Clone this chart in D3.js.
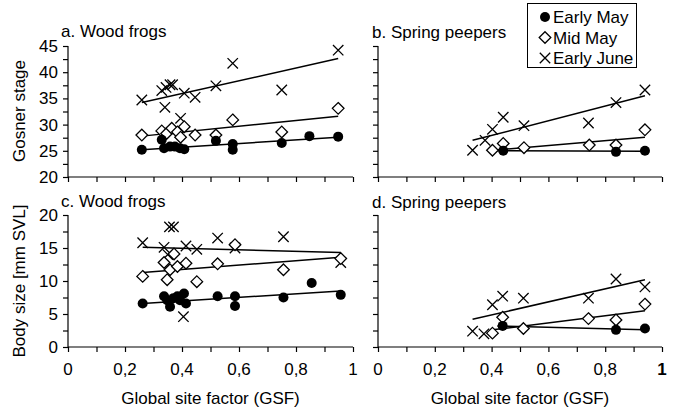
<!DOCTYPE html>
<html><head><meta charset="utf-8">
<script src="https://cdn.jsdelivr.net/npm/d3@7"></script>
<style>body{margin:0;background:#fff}svg{display:block}text{font-family:"Liberation Sans",Arial,sans-serif;fill:#000}</style>
</head><body><svg id="c" width="674" height="414"></svg>
<script>
// ---- data ----
const seriesNames = ["Early May", "Mid May", "Early June"];
const xTicks = [0, 0.2, 0.4, 0.6, 0.8, 1];
const stageTicks = [20, 25, 30, 35, 40, 45];
const sizeTicks = [0, 5, 10, 15, 20];

// a. Wood frogs, Gosner stage
const aEarlyMay = [[0.259,25.2],[0.329,27.1],[0.337,25.5],[0.358,25.8],[0.375,25.8],[0.393,25.5],[0.408,25.3],[0.519,26.9],[0.578,26.3],[0.578,25.2],[0.750,26.5],[0.847,27.8],[0.948,27.7]];
const aMidMay = [[0.259,28.0],[0.329,28.8],[0.346,28.3],[0.364,29.3],[0.384,28.6],[0.395,27.6],[0.408,29.6],[0.446,28.0],[0.519,28.0],[0.578,30.9],[0.750,28.6],[0.948,33.1]];
const aEarlyJune = [[0.259,34.7],[0.329,36.5],[0.344,37.1],[0.358,37.6],[0.367,37.6],[0.340,33.3],[0.395,31.2],[0.408,36.0],[0.446,35.2],[0.519,37.4],[0.578,41.7],[0.750,36.6],[0.948,44.2]];
const aFits = [[[0.259,25.2],[0.948,27.6]], [[0.259,27.8],[0.948,31.6]], [[0.259,34.2],[0.948,42.6]]];

// b. Spring peepers, Gosner stage
const bEarlyMay = [[0.441,25.0],[0.838,24.8],[0.940,25.0]];
const bMidMay = [[0.403,25.1],[0.441,26.4],[0.514,25.6],[0.744,26.1],[0.838,26.1],[0.940,29.0]];
const bEarlyJune = [[0.333,25.1],[0.377,27.0],[0.403,29.1],[0.441,31.4],[0.514,29.8],[0.741,30.3],[0.838,34.2],[0.940,36.6]];
const bFits = [[[0.420,25.0],[0.940,24.9]], [[0.403,25.1],[0.940,27.6]], [[0.333,27.0],[0.940,35.5]]];

// c. Wood frogs, body size
const cEarlyMay = [[0.262,6.6],[0.337,7.7],[0.348,7.1],[0.358,6.1],[0.370,7.4],[0.384,7.7],[0.393,7.1],[0.407,8.1],[0.414,6.6],[0.525,7.7],[0.586,7.7],[0.586,6.2],[0.756,7.5],[0.855,9.7],[0.957,7.9]];
const cMidMay = [[0.262,10.7],[0.337,12.8],[0.348,10.2],[0.358,11.7],[0.372,14.1],[0.384,12.2],[0.414,12.7],[0.452,9.9],[0.525,12.6],[0.586,15.5],[0.756,11.7],[0.957,13.4]];
const cEarlyJune = [[0.262,15.8],[0.337,15.1],[0.356,18.2],[0.370,18.2],[0.350,14.0],[0.414,15.3],[0.452,14.8],[0.525,16.5],[0.586,15.0],[0.756,16.7],[0.957,12.8],[0.405,4.6]];
const cFits = [[[0.262,6.6],[0.957,8.5]], [[0.262,11.3],[0.957,13.6]], [[0.262,15.1],[0.957,14.3]]];

// d. Spring peepers, body size
const dEarlyMay = [[0.439,3.2],[0.838,2.6],[0.940,2.8]];
const dMidMay = [[0.403,2.1],[0.439,4.5],[0.512,2.8],[0.741,4.3],[0.838,4.1],[0.940,6.5]];
const dEarlyJune = [[0.333,2.4],[0.373,2.0],[0.403,6.4],[0.439,7.7],[0.512,7.4],[0.741,7.4],[0.838,10.3],[0.940,9.1]];
const dFits = [[[0.420,3.2],[0.940,2.6]], [[0.403,2.6],[0.940,5.5]], [[0.333,4.2],[0.940,10.2]]];

// ---- drawing ----
const FS = 17;
const svg = d3.select("#c");
svg.append("rect").attr("width",674).attr("height",414).attr("fill","#fff");

const panels = [
  {title:"a. Wood frogs", x0:68, x1:353, y0:177, y1:46, dom:[20,45], ticks:stageTicks, labels:true, data:[aEarlyMay,aMidMay,aEarlyJune], fits:aFits, tx:61, ty:37},
  {title:"b. Spring peepers", x0:378, x1:662, y0:177, y1:46, dom:[20,45], ticks:stageTicks, labels:false, data:[bEarlyMay,bMidMay,bEarlyJune], fits:bFits, tx:372, ty:38},
  {title:"c. Wood frogs", x0:68, x1:353, y0:347, y1:215, dom:[0,20], ticks:sizeTicks, labels:true, data:[cEarlyMay,cMidMay,cEarlyJune], fits:cFits, tx:61, ty:207},
  {title:"d. Spring peepers", x0:378, x1:662, y0:347, y1:215, dom:[0,20], ticks:sizeTicks, labels:false, data:[dEarlyMay,dMidMay,dEarlyJune], fits:dFits, tx:372, ty:208}
];

const fmt = d => d === 0 ? "0" : d === 1 ? "1" : String(d).replace(".", ",");

function marker(g, kind, cx, cy) {
  if (kind === 0) {
    g.append("circle").attr("cx",cx).attr("cy",cy).attr("r",5).attr("fill","#000");
  } else if (kind === 1) {
    const s = 5.8;
    g.append("path").attr("d",`M${cx},${cy-s}L${cx+s},${cy}L${cx},${cy+s}L${cx-s},${cy}Z`)
      .attr("fill","#fff").attr("stroke","#000").attr("stroke-width",1.3);
  } else {
    const s = 5.2;
    g.append("path").attr("d",`M${cx-s},${cy-s}L${cx+s},${cy+s}M${cx-s},${cy+s}L${cx+s},${cy-s}`)
      .attr("stroke","#000").attr("stroke-width",1.3).attr("fill","none");
  }
}

panels.forEach((p, pi) => {
  const x = d3.scaleLinear().domain([0,1]).range([p.x0,p.x1]);
  const y = d3.scaleLinear().domain(p.dom).range([p.y0,p.y1]);
  const g = svg.append("g");

  const xa = g.append("g").attr("transform",`translate(0,${p.y0})`)
    .call(d3.axisBottom(x).tickValues(d3.range(0,1.0001,0.1)).tickSize(5).tickFormat(""));
  const yt = d3.range(p.dom[0], p.dom[1]+0.001, 2.5);
  const ya = g.append("g").attr("transform",`translate(${p.x0},0)`)
    .call(d3.axisLeft(y).tickValues(yt).tickSize(5).tickFormat(""));
  [xa, ya].forEach(a => { a.selectAll("path,line").attr("stroke","#000").attr("stroke-width",1.2); a.select(".domain").attr("d", null); });
  xa.append("line").attr("x1",p.x0).attr("x2",p.x1).attr("stroke","#000").attr("stroke-width",1.2);
  ya.append("line").attr("y1",p.y0).attr("y2",p.y1).attr("stroke","#000").attr("stroke-width",1.2);

  if (p.labels) {
    g.selectAll(".yl").data(p.ticks).join("text")
      .attr("x", p.x0 - 10).attr("y", d => y(d) + 6)
      .attr("text-anchor","end").attr("font-size",FS).text(d => d);
  }

  g.append("text").attr("x",p.tx).attr("y",p.ty).attr("font-size",FS).text(p.title);

  p.fits.forEach(f => {
    g.append("line").attr("x1",x(f[0][0])).attr("y1",y(f[0][1]))
      .attr("x2",x(f[1][0])).attr("y2",y(f[1][1]))
      .attr("stroke","#000").attr("stroke-width",1.5);
  });
  [2,1,0].forEach(k => {
    p.data[k].forEach(d => marker(g, k, x(d[0]), y(d[1])));
  });

  if (pi >= 2) {
    g.selectAll(".xl").data(xTicks).join("text")
      .attr("x", d => x(d)).attr("y", p.y0 + 28)
      .attr("text-anchor","middle").attr("font-size",FS)
      .attr("font-weight", d => (pi === 3 && d === 1) ? "bold" : "normal")
      .text(fmt);
    g.append("text").attr("x",(p.x0+p.x1)/2).attr("y",p.y0 + 57)
      .attr("text-anchor","middle").attr("font-size",FS).text("Global site factor (GSF)");
  }
});

svg.append("text").attr("transform","translate(25,111) rotate(-90)")
  .attr("text-anchor","middle").attr("font-size",FS).text("Gosner stage");
svg.append("text").attr("transform","translate(25,281) rotate(-90)")
  .attr("text-anchor","middle").attr("font-size",FS).text("Body size [mm SVL]");

const lg = svg.append("g");
lg.append("rect").attr("x",527.5).attr("y",3.5).attr("width",109).attr("height",64)
  .attr("fill","#fff").attr("stroke","#000").attr("stroke-width",1);
seriesNames.forEach((n,i) => {
  const cy = 17 + i*20.5;
  marker(lg, i, 545, cy);
  lg.append("text").attr("x",553).attr("y",cy+6).attr("font-size",FS).text(n);
});
</script></body></html>
